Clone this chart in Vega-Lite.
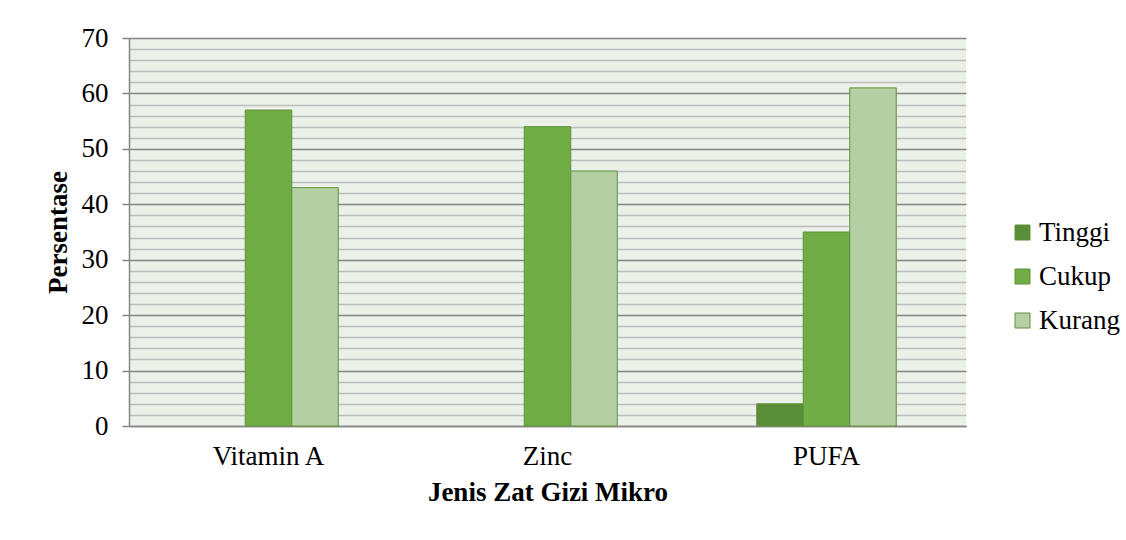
{
  "$schema": "https://vega.github.io/schema/vega-lite/v6.json",
  "width": 837,
  "height": 388,
  "autosize": {"type": "none"},
  "padding": {"left": 129, "top": 38, "right": 160, "bottom": 114},
  "background": "white",
  "config": {
    "font": "Liberation Serif",
    "view": {"fill": "#EBF0E8", "stroke": null}
  },
  "data": {
    "values": [
      {"zat": "Vitamin A", "kategori": "Cukup", "persen": 57},
      {"zat": "Vitamin A", "kategori": "Kurang", "persen": 43},
      {"zat": "Zinc", "kategori": "Cukup", "persen": 54},
      {"zat": "Zinc", "kategori": "Kurang", "persen": 46},
      {"zat": "PUFA", "kategori": "Tinggi", "persen": 4},
      {"zat": "PUFA", "kategori": "Cukup", "persen": 35},
      {"zat": "PUFA", "kategori": "Kurang", "persen": 61}
    ]
  },
  "mark": {"type": "bar", "stroke": "#5E9139", "strokeWidth": 1},
  "encoding": {
    "x": {
      "field": "zat",
      "type": "nominal",
      "sort": ["Vitamin A", "Zinc", "PUFA"],
      "scale": {"paddingInner": 0, "paddingOuter": 0},
      "axis": {
        "title": "Jenis Zat Gizi Mikro",
        "titleFont": "Liberation Serif",
        "titleFontSize": 27,
        "titleFontWeight": "bold",
        "titleColor": "black",
        "titlePadding": 10,
        "labelFont": "Liberation Serif",
        "labelFontSize": 27,
        "labelColor": "black",
        "labelAngle": 0,
        "labelPadding": 17,
        "ticks": false,
        "domainColor": "#868686",
        "domainWidth": 1.5,
        "grid": false
      }
    },
    "xOffset": {
      "field": "kategori",
      "type": "nominal",
      "scale": {"domain": ["_a", "Tinggi", "Cukup", "Kurang", "_b"], "paddingInner": 0, "paddingOuter": 0.5}
    },
    "y": {
      "field": "persen",
      "type": "quantitative",
      "scale": {"domain": [0, 70], "nice": false},
      "axis": {
        "title": "Persentase",
        "titleFont": "Liberation Serif",
        "titleFontSize": 27,
        "titleFontWeight": "bold",
        "titleColor": "black",
        "titlePadding": 9,
        "values": [0, 2, 4, 6, 8, 10, 12, 14, 16, 18, 20, 22, 24, 26, 28, 30, 32, 34, 36, 38, 40, 42, 44, 46, 48, 50, 52, 54, 56, 58, 60, 62, 64, 66, 68, 70],
        "labelExpr": "datum.value % 10 === 0 ? datum.label : ''",
        "labelFont": "Liberation Serif",
        "labelFontSize": 27,
        "labelColor": "black",
        "labelPadding": 14,
        "tickSize": 7,
        "tickWidth": 1.5,
        "tickColor": {"condition": {"test": "datum.value % 10 === 0", "value": "#868686"}, "value": "transparent"},
        "grid": true,
        "gridColor": {"condition": {"test": "datum.value % 10 === 0", "value": "#858585"}, "value": "#BDBDBD"},
        "gridWidth": 1.5,
        "domainColor": "#868686",
        "domainWidth": 1.5
      }
    },
    "color": {
      "field": "kategori",
      "type": "nominal",
      "scale": {"domain": ["Tinggi", "Cukup", "Kurang"], "range": ["#5A8D37", "#70AD47", "#B5CFA5"]},
      "legend": {
        "title": null,
        "orient": "none",
        "legendX": 880,
        "legendY": 181,
        "padding": 0,
        "symbolType": "square",
        "symbolSize": 225,
        "symbolStrokeColor": "#5E9139",
        "symbolStrokeWidth": 1,
        "labelFont": "serif",
        "labelFontSize": 27,
        "labelColor": "black",
        "labelOffset": 3,
        "rowPadding": 16,
        "labelLimit": 200
      }
    }
  }
}
